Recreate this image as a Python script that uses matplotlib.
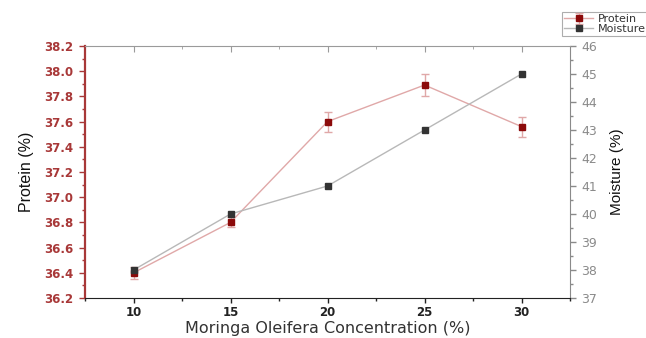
import matplotlib
matplotlib.use("Agg")
import matplotlib.pyplot as plt
from matplotlib.ticker import MultipleLocator, FormatStrFormatter

plt.rcParams['font.family'] = ['DejaVu Sans']

concentration = [10, 15, 20, 25, 30]
protein = [36.40, 36.80, 37.60, 37.89, 37.56]
protein_err = [0.05, 0.04, 0.08, 0.09, 0.08]
moisture = [38.0, 40.0, 41.0, 43.0, 45.0]

RED_DARK = '#8c0a0a'
RED_LINE = '#e0a8a8'
RED_TICK = '#a83838'
GRAY_DARK = '#333333'
GRAY_LINE = '#b8b8b8'
GRAY_AX = '#8a8a8a'

fig = plt.figure(figsize=(6.46, 3.38), dpi=100)
ax = fig.add_axes([0.1316, 0.1183, 0.7508, 0.7457])
ax2 = ax.twinx()

p_line = ax.errorbar(concentration, protein, yerr=protein_err, color=RED_LINE,
                     lw=1.0, marker='s', ms=5, mfc=RED_DARK, mec=RED_DARK,
                     ecolor=RED_LINE, elinewidth=1.0, capsize=3, capthick=1.0,
                     label='Protein', zorder=3)
m_line, = ax2.plot(concentration, moisture, color=GRAY_LINE, lw=1.0, marker='s',
                   ms=5, mfc=GRAY_DARK, mec=GRAY_DARK, label='Moisture', zorder=3)

ax.set_xlim(7.5, 32.5)
ax.set_ylim(36.2, 38.2)
ax2.set_ylim(37, 46)

ax.xaxis.set_major_locator(MultipleLocator(5))
ax.xaxis.set_minor_locator(MultipleLocator(2.5))
ax.yaxis.set_major_locator(MultipleLocator(0.2))
ax.yaxis.set_minor_locator(MultipleLocator(0.1))
ax2.yaxis.set_major_locator(MultipleLocator(1))
ax2.yaxis.set_minor_locator(MultipleLocator(0.5))
ax.yaxis.set_major_formatter(FormatStrFormatter('%.1f'))

# spines
ax2.spines['left'].set_color(RED_TICK)
ax2.spines['left'].set_linewidth(1.6)
ax2.spines['right'].set_color(GRAY_AX)
ax2.spines['top'].set_color('#9a9a9a')
ax2.spines['bottom'].set_color('#222222')
for s in ax.spines.values():
    s.set_visible(False)

ax.tick_params(axis='y', which='major', direction='out', length=4.5, width=1.0,
               color=RED_TICK, labelcolor=RED_TICK, labelsize=8.5, pad=4)
ax.tick_params(axis='y', which='minor', direction='out', length=2.5, width=1.0,
               color=RED_TICK)
ax.tick_params(axis='x', which='major', direction='out', length=3.5, width=1.0,
               color='#222222', labelcolor='#222222', labelsize=8.5, pad=2.5)
ax.tick_params(axis='x', which='minor', direction='out', length=2, width=1.0,
               color='#222222')
ax2.tick_params(axis='y', which='major', direction='out', length=4, width=1.0,
                color=GRAY_AX, labelcolor='#8a8a8a', labelsize=9, pad=4)
ax2.tick_params(axis='y', which='minor', direction='out', length=2.5, width=1.0,
                color=GRAY_AX)
for lbl in ax.get_yticklabels() + ax.get_xticklabels():
    lbl.set_fontweight('bold')

# inward ticks along the top edge
secx = ax.secondary_xaxis('top')
secx.xaxis.set_major_locator(MultipleLocator(5))
secx.xaxis.set_minor_locator(MultipleLocator(2.5))
secx.tick_params(which='major', direction='in', length=4, color='#9a9a9a', labeltop=False)
secx.tick_params(which='minor', direction='in', length=2, color='#9a9a9a')
secx.spines['top'].set_visible(False)

label_font = ['Liberation Sans', 'DejaVu Sans']
ax.set_ylabel('Protein (%)', family=label_font, fontsize=11.5, color='#111111',
              labelpad=7)
ax2.set_ylabel('Moisture (%)', family=label_font, fontsize=11, color='#111111',
               labelpad=9)
ax.set_xlabel('Moringa Oleifera Concentration (%)', fontsize=11.5, color='#333333',
              labelpad=1.5)

leg = fig.legend([p_line, m_line], ['Protein', 'Moisture'], loc='upper left',
                 bbox_to_anchor=(562 / 646, 1 - 12 / 338), fontsize=8,
                 frameon=True, fancybox=False, borderpad=0.2, labelspacing=0.0,
                 handlelength=2.6, handletextpad=0.4, borderaxespad=0)
leg.get_frame().set_edgecolor('#999999')
leg.get_frame().set_linewidth(0.8)
for t in leg.get_texts():
    t.set_color('#333333')

fig.savefig('out.png', dpi=100)
